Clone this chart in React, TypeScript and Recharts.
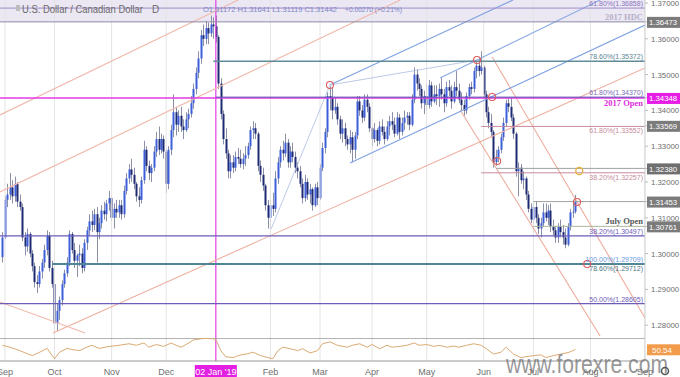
import React from "react";
import { Bar, ComposedChart, Line, ReferenceArea, ReferenceDot, ReferenceLine, XAxis, YAxis } from "recharts";

// daily USD/CAD candles, [open, high, low, close], one array per month (index 0 = 31 Aug 2018)
const aug18 = [[1.299, 1.306, 1.2975, 1.3045]];
const sep18 = [
  [1.3045, 1.316, 1.304, 1.315], [1.315, 1.3195, 1.313, 1.3165], [1.3165, 1.3225, 1.315, 1.3185],
  [1.3185, 1.3205, 1.314, 1.316], [1.316, 1.3215, 1.3145, 1.3195], [1.3195, 1.32, 1.313, 1.3145],
  [1.3145, 1.3165, 1.312, 1.313], [1.313, 1.314, 1.3035, 1.3045], [1.3045, 1.306, 1.2995, 1.302],
  [1.302, 1.307, 1.3005, 1.3055], [1.3055, 1.306, 1.299, 1.3], [1.3, 1.301, 1.295, 1.2965],
  [1.2965, 1.2975, 1.2905, 1.292], [1.292, 1.294, 1.289, 1.2915], [1.2915, 1.2965, 1.2905, 1.295],
  [1.295, 1.2985, 1.293, 1.2975], [1.2975, 1.3025, 1.296, 1.301], [1.301, 1.3065, 1.2995, 1.305],
  [1.305, 1.306, 1.295, 1.296], [1.296, 1.298, 1.2905, 1.2915],
];
const oct18 = [
  [1.2915, 1.2925, 1.278, 1.2805], [1.2805, 1.286, 1.2785, 1.284], [1.284, 1.288, 1.2815, 1.287],
  [1.287, 1.2925, 1.2855, 1.2915], [1.2915, 1.2955, 1.2905, 1.2945], [1.2945, 1.299, 1.2935, 1.2975],
  [1.2975, 1.3065, 1.2965, 1.3055], [1.3055, 1.306, 1.3, 1.301], [1.301, 1.303, 1.296, 1.298],
  [1.298, 1.3, 1.2935, 1.2995], [1.2995, 1.3025, 1.2965, 1.3], [1.3, 1.3015, 1.2945, 1.296],
  [1.296, 1.304, 1.295, 1.303], [1.303, 1.3075, 1.301, 1.3065], [1.3065, 1.311, 1.305, 1.309],
  [1.309, 1.312, 1.306, 1.308], [1.308, 1.3125, 1.3065, 1.311], [1.311, 1.313, 1.2975, 1.306],
  [1.306, 1.31, 1.304, 1.3085], [1.3085, 1.3135, 1.307, 1.312], [1.312, 1.3145, 1.3095, 1.311],
  [1.311, 1.315, 1.309, 1.314], [1.314, 1.3175, 1.312, 1.3155],
];
const nov18 = [
  [1.3155, 1.316, 1.309, 1.31], [1.31, 1.314, 1.307, 1.3125], [1.3125, 1.315, 1.31, 1.3115],
  [1.3115, 1.315, 1.31, 1.3135], [1.3135, 1.315, 1.3095, 1.311], [1.311, 1.319, 1.31, 1.3175],
  [1.3175, 1.3225, 1.3165, 1.321], [1.321, 1.325, 1.3195, 1.3235], [1.3235, 1.3265, 1.32, 1.322],
  [1.322, 1.324, 1.318, 1.3195], [1.3195, 1.32, 1.3145, 1.316], [1.316, 1.3185, 1.313, 1.315],
  [1.315, 1.3215, 1.314, 1.3205], [1.3205, 1.3315, 1.3195, 1.329], [1.329, 1.33, 1.323, 1.3245],
  [1.3245, 1.326, 1.3205, 1.3225], [1.3225, 1.325, 1.32, 1.324], [1.324, 1.33, 1.323, 1.3285],
  [1.3285, 1.334, 1.327, 1.332], [1.332, 1.3355, 1.3275, 1.329], [1.329, 1.3335, 1.328, 1.332],
  [1.332, 1.333, 1.3265, 1.3285],
];
const dec18 = [
  [1.3285, 1.329, 1.317, 1.3195], [1.3195, 1.33, 1.318, 1.329], [1.329, 1.336, 1.3275, 1.3345],
  [1.3345, 1.3445, 1.3325, 1.3395], [1.3395, 1.341, 1.333, 1.336], [1.336, 1.34, 1.334, 1.3385],
  [1.3385, 1.341, 1.334, 1.3355], [1.3355, 1.3375, 1.332, 1.3345], [1.3345, 1.3395, 1.334, 1.3375],
  [1.3375, 1.3405, 1.335, 1.339], [1.339, 1.344, 1.338, 1.342], [1.342, 1.3475, 1.3405, 1.346],
  [1.346, 1.352, 1.3445, 1.3505], [1.3505, 1.3565, 1.349, 1.3545], [1.3545, 1.3625, 1.353, 1.361],
  [1.361, 1.364, 1.358, 1.36], [1.36, 1.365, 1.3585, 1.363], [1.363, 1.3645, 1.3585, 1.3615],
  [1.3615, 1.3665, 1.3605, 1.364], [1.364, 1.366, 1.36, 1.3635],
];
const jan19 = [
  [1.3635, 1.3665, 1.359, 1.3605], [1.3605, 1.361, 1.346, 1.3475], [1.3475, 1.349, 1.3375, 1.339],
  [1.339, 1.34, 1.3305, 1.332], [1.332, 1.335, 1.3265, 1.328], [1.328, 1.329, 1.321, 1.323],
  [1.323, 1.3275, 1.321, 1.3255], [1.3255, 1.3275, 1.3225, 1.324], [1.324, 1.3285, 1.323, 1.327],
  [1.327, 1.3295, 1.325, 1.3265], [1.3265, 1.329, 1.324, 1.325], [1.325, 1.328, 1.3235, 1.3265],
  [1.3265, 1.33, 1.3245, 1.3275], [1.3275, 1.331, 1.3265, 1.33], [1.33, 1.3355, 1.329, 1.3345],
  [1.3345, 1.337, 1.332, 1.335], [1.335, 1.3365, 1.332, 1.3335], [1.3335, 1.334, 1.323, 1.3245],
  [1.3245, 1.326, 1.32, 1.322], [1.322, 1.324, 1.3175, 1.319], [1.319, 1.3195, 1.312, 1.3135],
  [1.3135, 1.315, 1.307, 1.31],
];
const feb19 = [
  [1.31, 1.315, 1.307, 1.3135], [1.3135, 1.317, 1.3105, 1.3125], [1.3125, 1.323, 1.3115, 1.321],
  [1.321, 1.327, 1.3195, 1.3255], [1.3255, 1.33, 1.324, 1.329], [1.329, 1.3315, 1.326, 1.328],
  [1.328, 1.3335, 1.327, 1.331], [1.331, 1.332, 1.324, 1.3255], [1.3255, 1.33, 1.324, 1.3285],
  [1.3285, 1.331, 1.3255, 1.327], [1.327, 1.3285, 1.3225, 1.324], [1.324, 1.3255, 1.321, 1.323],
  [1.323, 1.3245, 1.3185, 1.3195], [1.3195, 1.321, 1.314, 1.3155], [1.3155, 1.322, 1.3145, 1.32],
  [1.32, 1.321, 1.315, 1.3165], [1.3165, 1.3195, 1.314, 1.318], [1.318, 1.3185, 1.312, 1.3135],
  [1.3135, 1.3195, 1.313, 1.3185], [1.3185, 1.32, 1.3135, 1.3155],
];
const mar19 = [
  [1.3155, 1.325, 1.315, 1.324], [1.324, 1.331, 1.323, 1.3295], [1.3295, 1.335, 1.328, 1.334],
  [1.334, 1.345, 1.3325, 1.344], [1.344, 1.3467, 1.34, 1.3435], [1.3435, 1.3465, 1.3375, 1.34],
  [1.34, 1.3435, 1.339, 1.341], [1.341, 1.342, 1.336, 1.3375], [1.3375, 1.3385, 1.332, 1.3335],
  [1.3335, 1.3375, 1.331, 1.335], [1.335, 1.3365, 1.33, 1.332], [1.332, 1.333, 1.329, 1.3305],
  [1.3305, 1.3345, 1.328, 1.3325], [1.3325, 1.334, 1.3255, 1.329], [1.329, 1.334, 1.3265, 1.333],
  [1.333, 1.344, 1.332, 1.3425], [1.3425, 1.344, 1.3385, 1.34], [1.34, 1.3415, 1.3365, 1.338],
  [1.338, 1.3445, 1.337, 1.343], [1.343, 1.3445, 1.3395, 1.341], [1.341, 1.342, 1.334, 1.335],
];
const apr19 = [
  [1.335, 1.3355, 1.33, 1.332], [1.332, 1.3365, 1.331, 1.3345], [1.3345, 1.335, 1.33, 1.3315],
  [1.3315, 1.337, 1.3305, 1.3355], [1.3355, 1.3375, 1.333, 1.334], [1.334, 1.3355, 1.3305, 1.332],
  [1.332, 1.337, 1.3315, 1.3355], [1.3355, 1.3385, 1.333, 1.337], [1.337, 1.3395, 1.3345, 1.336],
  [1.336, 1.338, 1.3325, 1.3335], [1.3335, 1.3395, 1.333, 1.338], [1.338, 1.339, 1.332, 1.334],
  [1.334, 1.338, 1.333, 1.3365], [1.3365, 1.34, 1.3345, 1.338], [1.338, 1.3395, 1.336, 1.3385],
  [1.3385, 1.3395, 1.3345, 1.336], [1.336, 1.3445, 1.3355, 1.343], [1.343, 1.352, 1.342, 1.35],
  [1.35, 1.3515, 1.3455, 1.3475], [1.3475, 1.349, 1.344, 1.346], [1.346, 1.347, 1.3405, 1.342],
  [1.342, 1.3455, 1.339, 1.344],
];
const may19 = [
  [1.344, 1.3475, 1.34, 1.3415], [1.3415, 1.3485, 1.3405, 1.347], [1.347, 1.348, 1.341, 1.3425],
  [1.3425, 1.347, 1.342, 1.3445], [1.3445, 1.347, 1.3415, 1.344], [1.344, 1.3475, 1.341, 1.346],
  [1.346, 1.349, 1.343, 1.3445], [1.3445, 1.346, 1.3395, 1.342], [1.342, 1.348, 1.341, 1.3465],
  [1.3465, 1.3485, 1.344, 1.3455], [1.3455, 1.347, 1.3405, 1.3425], [1.3425, 1.348, 1.342, 1.3465],
  [1.3465, 1.351, 1.344, 1.3455], [1.3455, 1.3475, 1.342, 1.343], [1.343, 1.345, 1.34, 1.3415],
  [1.3415, 1.343, 1.3385, 1.34], [1.34, 1.345, 1.339, 1.344], [1.344, 1.3475, 1.343, 1.3465],
  [1.3465, 1.348, 1.3445, 1.346], [1.346, 1.352, 1.345, 1.351], [1.351, 1.354, 1.349, 1.3525],
  [1.3525, 1.3545, 1.3495, 1.351], [1.351, 1.3565, 1.35, 1.352],
];
const jun19 = [
  [1.352, 1.3525, 1.3435, 1.3445], [1.3445, 1.3455, 1.338, 1.3395], [1.3395, 1.341, 1.335, 1.3365],
  [1.3365, 1.339, 1.3325, 1.334], [1.334, 1.3345, 1.324, 1.3255], [1.3255, 1.329, 1.3245, 1.327],
  [1.327, 1.33, 1.3255, 1.329], [1.329, 1.3335, 1.328, 1.3325], [1.3325, 1.338, 1.3315, 1.3365],
  [1.3365, 1.343, 1.3355, 1.342], [1.342, 1.3435, 1.3395, 1.341], [1.341, 1.3435, 1.337, 1.338],
  [1.338, 1.339, 1.332, 1.3335], [1.3335, 1.334, 1.3215, 1.323], [1.323, 1.3255, 1.316, 1.324],
  [1.324, 1.325, 1.3195, 1.3205], [1.3205, 1.323, 1.318, 1.321], [1.321, 1.3215, 1.315, 1.3165],
  [1.3165, 1.3175, 1.3115, 1.3125], [1.3125, 1.314, 1.3085, 1.3095],
];
const jul19 = [
  [1.3095, 1.314, 1.3085, 1.313], [1.313, 1.3145, 1.3085, 1.31], [1.31, 1.311, 1.3055, 1.307],
  [1.307, 1.31, 1.3045, 1.3085], [1.3085, 1.314, 1.3075, 1.3115], [1.3115, 1.314, 1.309, 1.31],
  [1.31, 1.3135, 1.308, 1.312], [1.312, 1.314, 1.306, 1.3075], [1.3075, 1.3095, 1.305, 1.3065],
  [1.3065, 1.3075, 1.303, 1.3045], [1.3045, 1.3085, 1.303, 1.3075], [1.3075, 1.3095, 1.3045, 1.306],
  [1.306, 1.308, 1.3025, 1.3045], [1.3045, 1.307, 1.3015, 1.3025], [1.3025, 1.3085, 1.302, 1.3075],
  [1.3075, 1.3125, 1.3065, 1.3115], [1.3115, 1.315, 1.31, 1.3117], [1.31172, 1.31641, 1.31119, 1.31442],
];

const candles = [aug18, sep18, oct18, nov18, dec18, jan19, feb19, mar19, apr19, may19, jun19, jul19]
  .flat()
  .map((r, i) => ({ i, o: r[0], h: r[1], l: r[2], c: r[3] }));

// month starts (trading-day index) and their labels
const monthIdx = [1, 21, 44, 66, 86, 108, 128, 149, 171, 194, 214, 237, 259];
const monthLabels = ["Sep", "Oct", "Nov", "Dec", "02 Jan '19", "Feb", "Mar", "Apr", "May", "Jun", "Jul", "Aug", "Sep"];

const priceTicks = [1.28, 1.29, 1.3, 1.31, 1.32, 1.33, 1.34, 1.35, 1.36, 1.37];
const boxPrices = [1.36473, 1.34348, 1.33569, 1.3238, 1.31453, 1.30761];
const boxFills = ["#7b7b7b", "#e51de5", "#7b7b7b", "#6f6f6f", "#7b7b7b", "#7b7b7b"];

// RSI
const rsiIdx = [0, 3, 7, 10, 12, 15, 18, 20, 21, 23, 26, 28, 31, 34, 36, 39, 43, 47, 51, 54, 57, 59, 62, 65, 68, 70, 72, 74,
  77, 80, 82, 85, 86, 88, 90, 93, 96, 99, 101, 104, 107, 109, 111, 113, 116, 119, 121, 124, 127, 129, 132, 135, 139, 141,
  144, 147, 149, 152, 155, 157, 160, 163, 166, 168, 171, 174, 176, 179, 182, 184, 187, 190, 193, 195, 198, 201, 203, 206,
  209, 211, 214, 217, 219, 222, 225, 228, 230, 231];
const rsiVal = [61, 56, 47, 39, 34, 43, 53, 34, 26, 43, 53, 50, 47, 56, 61, 53, 58, 61, 65, 61, 67, 56, 63, 58, 67, 61, 56, 63,
  75, 78, 79, 78, 76, 47, 31, 29, 36, 39, 43, 34, 29, 26, 47, 56, 52, 47, 52, 41, 47, 65, 70, 61, 56, 61,
  65, 56, 63, 52, 61, 56, 58, 61, 67, 61, 63, 58, 61, 56, 59, 56, 61, 65, 61, 52, 38, 43, 56, 38,
  29, 31, 34, 36, 29, 34, 38, 42, 47, 50.54];
const rsiData = rsiIdx.map((i, k) => ({ i, v: rsiVal[k] }));

// horizontal levels: price, first index, caption
const levelPrices = [1.36858, 1.36473, 1.35372, 1.34348, 1.3437, 1.33552, 1.3238, 1.32257, 1.31453, 1.30761, 1.30497, 1.29709, 1.29712, 1.28605];
const levelStarts = [-1, -1, 85, -1, 86, 193, 199, 193, 214, 214, -1, 20, 20, -1];
const levelTexts = ["61.80%(1.36858)", "2017 HDC", "78.60%(1.35372)", "2017 Open", "61.80%(1.34370)", "61.80%(1.33552)", "",
  "38.20%(1.32257)", "", "July Open", "38.20%(1.30497)", "100.00%(1.29709)", "78.60%(1.29712)", "50.00%(1.28605)"];
const levelStyles = [
  { stroke: "#a28cc9", w: 1, fill: "#8d76c2", above: true },
  { stroke: "#8e8aa6", w: 1, fill: "#b7b0ca", above: true, bold: true },
  { stroke: "#5f8c9b", w: 1.5, fill: "#5b8494", above: true },
  { stroke: "#e33be3", w: 1.5, fill: "#e02ce0", above: false, bold: true },
  { stroke: "#5a50b2", w: 1, fill: "#7a6cb8", above: true },
  { stroke: "#c98a9f", w: 1, fill: "#c48c9c", above: false },
  { stroke: "#a2a2a2", w: 1, fill: "#999", above: true },
  { stroke: "#c98a9f", w: 1, fill: "#c48c9c", above: false },
  { stroke: "#a2a2a2", w: 1, fill: "#999", above: true },
  { stroke: "#a9b59c", w: 1, fill: "#555", above: true, bold: true },
  { stroke: "#6d5db9", w: 1.3, fill: "#6d5db9", above: true },
  { stroke: "#8fb4e6", w: 1, fill: "#6a98e0", above: true },
  { stroke: "#4f8696", w: 2, fill: "#4f7484", above: false },
  { stroke: "#6d5db9", w: 1.3, fill: "#6d5db9", above: true },
];

// sloped channel lines: [index1, price1, index2, price2]
const trendLines = [
  [-1, 1.33872, 95, 1.37084], [-1, 1.31721, 160.3, 1.37084], [20.35, 1.27782, 259, 1.35184],
  [-1, 1.28648, 33.3, 1.27782], [197.4, 1.35492, 259, 1.28201], [184.5, 1.34011, 240.9, 1.27698],
  [132, 1.34709, 205.8, 1.37084], [176.4, 1.34905, 240.9, 1.37084], [140.1, 1.32531, 259, 1.36385],
  [132, 1.34709, 191.3, 1.35408], [108.3, 1.30687, 132, 1.34709],
];
const trendColors = ["#f1b9ab", "#f1b9ab", "#eeb0a0", "#f1b9ab", "#eeac9c", "#eeac9c",
  "#7fa2e2", "#8aaae4", "#7fa2e2", "#a8bde2", "#a8bde2"];

// swing markers: [index, price]
const markers = [[132, 1.34709], [191.3, 1.35408], [197.4, 1.34374], [199.4, 1.32587], [231.6, 1.31441], [235.7, 1.29709]];
const yellowMarker = [232.5, 1.32307];

const X_DOMAIN = [-1, 259];
const Y_DOMAIN = [1.27642, 1.37084];

function Candle(props: any) {
  const { x, y, width, height, payload } = props;
  if (!payload || height == null) return null;
  const { o, h, l, c } = payload;
  const top = Math.min(y, y + height);
  const hh = Math.abs(height);
  const py = (p: number) => top + ((h - p) / (h - l || 1e-9)) * hh;
  const cx = Math.round(x + width / 2) + 0.5;
  const bTop = py(Math.max(o, c));
  const bBot = py(Math.min(o, c));
  return (
    <g>
      <line x1={cx} x2={cx} y1={top} y2={top + hh} stroke="#8b90a6" strokeWidth={1} />
      <rect x={cx - 1} y={bTop} width={2} height={Math.max(1, bBot - bTop)} fill={c >= o ? "#3c5fd9" : "#1e2a72"} />
    </g>
  );
}

function PriceTick(props: any) {
  const { x, y, payload } = props;
  const v = payload.value;
  const k = boxPrices.indexOf(v);
  if (k >= 0) {
    return (
      <g>
        <rect x={x - 3} y={y - 5} width={40} height={11} fill={boxFills[k]} />
        <text x={x - 1} y={y + 3.5} fill="#fff" fontSize={7.8}>{v.toFixed(5)}</text>
      </g>
    );
  }
  return <text x={x + 1} y={y + 3} fill="#6e6e6e" fontSize={7.8}>{v.toFixed(5)}</text>;
}

function RsiTick(props: any) {
  const { x, y, payload } = props;
  return (
    <g>
      <rect x={x - 3} y={y - 5} width={40} height={11} fill="#f29b4b" />
      <text x={x + 2} y={y + 3.5} fill="#fff" fontSize={8}>{payload.value.toFixed(2)}</text>
    </g>
  );
}

function MonthTick(props: any) {
  const { x, y, payload } = props;
  const k = monthIdx.indexOf(payload.value);
  if (k === 4) {
    return (
      <g>
        <rect x={x - 21} y={y + 4} width={42} height={12} fill="#e21fe2" />
        <text x={x} y={y + 13.5} textAnchor="middle" fill="#fff" fontSize={9}>{monthLabels[k]}</text>
      </g>
    );
  }
  return <text x={x} y={y + 13.5} textAnchor="middle" fill="#6e6e6e" fontSize={9}>{monthLabels[k]}</text>;
}

export default function App() {
  return (
    <div style={{ position: "absolute", left: 0, top: 0, width: 680, height: 377, background: "#fff", overflow: "hidden",
      fontFamily: "'Liberation Sans', Arial, sans-serif" }}>
      <ComposedChart width={680} height={338} data={candles} margin={{ top: 0, right: 0, bottom: 0, left: 0 }}>
        <XAxis type="number" dataKey="i" domain={X_DOMAIN} hide allowDataOverflow />
        <YAxis orientation="right" width={35} domain={Y_DOMAIN} allowDataOverflow ticks={[...priceTicks, ...boxPrices]}
          interval={0} tick={<PriceTick />} tickSize={3} tickMargin={2} axisLine={{ stroke: "#cfcfcf" }}
          tickLine={{ stroke: "#bbb" }} />
        <ReferenceArea y1={1.36473} y2={Y_DOMAIN[1]} fill="#ebe7f3" fillOpacity={1} ifOverflow="hidden" />
        {monthIdx.map((m, k) => k === 4 ? null : (
          <ReferenceLine key={"g" + k} x={m} stroke="#e4e4e4" ifOverflow="hidden" />
        ))}
        <ReferenceLine x={86} stroke="#e23fe2" strokeWidth={1.2} />
        {trendLines.map((t, k) => (
          <ReferenceLine key={"t" + k} segment={[{ x: t[0], y: t[1] }, { x: t[2], y: t[3] }]} stroke={trendColors[k]}
            strokeWidth={k >= 9 ? 0.8 : 1.1} ifOverflow="hidden" />
        ))}
        {levelPrices.map((p, k) => {
          const s = levelStyles[k];
          return (
            <ReferenceLine key={"l" + k} segment={[{ x: levelStarts[k], y: p }, { x: X_DOMAIN[1], y: p }]}
              stroke={s.stroke} strokeWidth={s.w} ifOverflow="hidden"
              label={levelTexts[k] ? {
                value: levelTexts[k], position: s.above ? "insideBottomRight" : "insideTopRight", offset: 2,
                fill: s.fill, fontSize: s.bold ? 8.5 : 7,
                fontWeight: s.bold ? "bold" : "normal",
                fontFamily: s.bold ? "'Liberation Serif', serif" : "'Liberation Sans', Arial, sans-serif",
              } : undefined} />
          );
        })}
        <Bar dataKey={(d: any) => [d.l, d.h]} shape={<Candle />} barSize={2} isAnimationActive={false} />
        {markers.map((m, k) => (
          <ReferenceDot key={"m" + k} x={m[0]} y={m[1]} r={3.5} fill="none" stroke="#dc5a5a" strokeWidth={1.1} />
        ))}
        <ReferenceDot x={yellowMarker[0]} y={yellowMarker[1]} r={3.5} fill="none" stroke="#e3b03a" strokeWidth={1.3} />
      </ComposedChart>
      <ComposedChart width={680} height={39} data={rsiData} margin={{ top: 0, right: 0, bottom: 0, left: 0 }}>
        <XAxis type="number" dataKey="i" domain={X_DOMAIN} allowDataOverflow ticks={monthIdx} interval={0}
          tick={<MonthTick />} axisLine={false} tickLine={false} tickSize={0} tickMargin={0} height={16} />
        <YAxis orientation="right" width={35} domain={[20, 80]} allowDataOverflow ticks={[rsiVal[rsiVal.length - 1]]}
          tick={<RsiTick />} tickSize={3} tickMargin={2} axisLine={{ stroke: "#cfcfcf" }} tickLine={false} />
        {monthIdx.map((m, k) => k === 4 ? null : (
          <ReferenceLine key={"rg" + k} x={m} stroke="#e4e4e4" ifOverflow="hidden" />
        ))}
        <ReferenceLine x={86} stroke="#e23fe2" strokeWidth={1.2} />
        <ReferenceLine y={80} stroke="#9a9a9a" strokeWidth={1.5} />
        <ReferenceLine y={20} stroke="#9a9a9a" strokeWidth={1.2} />
        <Line dataKey="v" type="linear" dot={false} stroke="#dcaa74" strokeWidth={1} isAnimationActive={false} />
      </ComposedChart>
      <svg width={680} height={377} style={{ position: "absolute", left: 0, top: 0, pointerEvents: "none" }}>
        <rect x={16} y={5} width={4} height={6} fill="#bdbdbd" />
        <text x={22} y={12.5} fontSize={10} fill="#6a6a6a" textLength={121} lengthAdjust="spacingAndGlyphs">
          U.S. Dollar / Canadian Dollar
        </text>
        <text x={152} y={12.5} fontSize={10} fill="#6a6a6a">D</text>
        <text x={203} y={12} fontSize={7.5} fill="#7c86c9" textLength={134} lengthAdjust="spacingAndGlyphs">
          O1.31172 H1.31641 L1.31119 C1.31442
        </text>
        <text x={345} y={12} fontSize={7.5} fill="#7c86c9" textLength={57} lengthAdjust="spacingAndGlyphs">
          +0.00270 (+0.21%)
        </text>
        <text x={506} y={373} fontSize={25} fill="#6f6f6f" fillOpacity={0.72} textLength={162}
          lengthAdjust="spacingAndGlyphs">www.forexre.com</text>
        <circle cx={665} cy={371} r={3.5} fill="none" stroke="#555" strokeWidth={1.5} />
      </svg>
    </div>
  );
}
